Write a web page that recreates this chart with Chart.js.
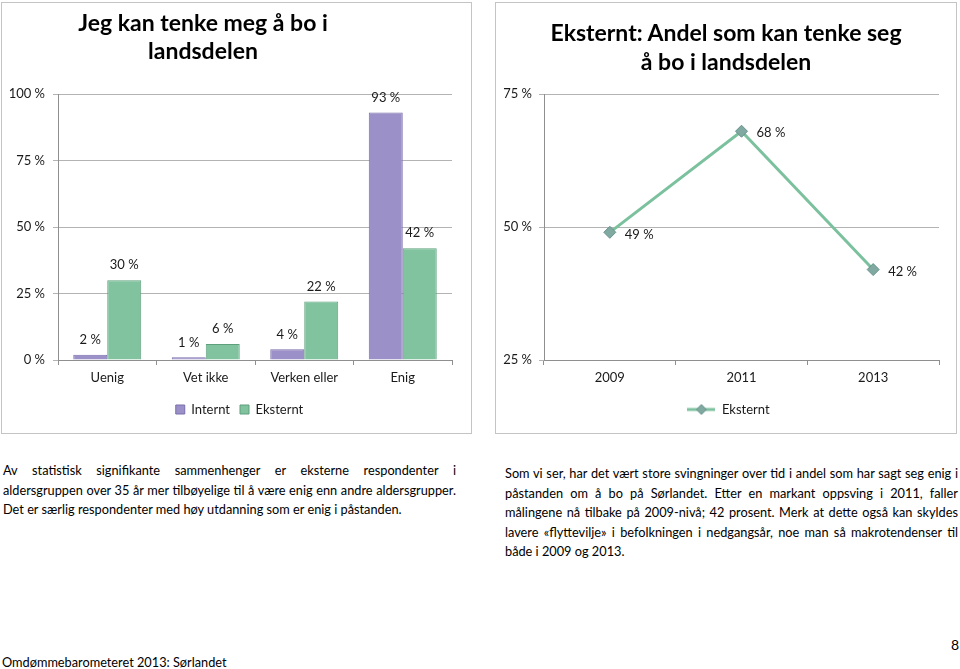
<!DOCTYPE html>
<html><head><meta charset="utf-8">
<script src="https://cdn.jsdelivr.net/npm/chart.js@4.4.1/dist/chart.umd.min.js"></script>
<style>
html,body{margin:0;padding:0;background:#fff;}
body{width:960px;height:669px;position:relative;overflow:hidden;font-family:Lato,sans-serif;color:#000;}
.box{position:absolute;border:1px solid #c4c4c4;box-sizing:border-box;}
.title{position:absolute;font-weight:bold;font-size:23px;text-align:center;color:#000;white-space:nowrap;}
.cv{position:absolute;}
.para{position:absolute;font-size:12px;line-height:19.5px;color:#000;}
.para div{white-space:nowrap;text-align:justify;text-align-last:justify;}
.para div.last{text-align-last:left;}
.foot{position:absolute;font-size:14px;line-height:16px;white-space:nowrap;transform-origin:0 0;}
</style></head>
<body>
<div class="box" style="left:1px;top:2px;width:471px;height:432px"></div>
<div class="box" style="left:495px;top:2px;width:462px;height:432px"></div>
<div class="cv" style="left:0;top:0;width:472px;height:435px"><canvas id="c1"></canvas></div>
<div class="cv" style="left:480px;top:0;width:480px;height:435px"><canvas id="c2"></canvas></div>
<div class="title" style="left:3px;top:8px;width:400px;line-height:28px">Jeg kan tenke meg å bo i<br>landsdelen</div>
<div class="title" style="left:526px;top:18px;width:400px;line-height:29px">Eksternt: Andel som kan tenke seg<br>å bo i landsdelen</div>
<div class="para" style="left:3px;top:461px;width:453px">
<div>Av statistisk signifikante sammenhenger er eksterne respondenter i</div>
<div>aldersgruppen over 35 år mer tilbøyelige til å være enig enn andre aldersgrupper.</div>
<div class="last">Det er særlig respondenter med høy utdanning som er enig i påstanden.</div>
</div>
<div class="para" style="left:505px;top:464px;width:453px">
<div>Som vi ser, har det vært store svingninger over tid i andel som har sagt seg enig i</div>
<div>påstanden om å bo på Sørlandet. Etter en markant oppsving i 2011, faller</div>
<div>målingene nå tilbake på 2009-nivå; 42 prosent. Merk at dette også kan skyldes</div>
<div>lavere «flyttevilje» i befolkningen i nedgangsår, noe man så makrotendenser til</div>
<div class="last">både i 2009 og 2013.</div>
</div>
<div class="foot" style="left:2px;top:654px;transform:scaleX(0.91)">Omdømmebarometeret 2013: Sørlandet</div>
<div class="foot" style="left:951px;top:637px">8</div>
<script>
// ---- data ----
const categories = ['Uenig', 'Vet ikke', 'Verken eller', 'Enig'];
const internt = [2, 1, 4, 93];
const eksternt = [30, 6, 22, 42];
const barTicks = [0, 25, 50, 75, 100];
const years = ['2009', '2011', '2013'];
const eksterntTrend = [49, 68, 42];
const lineTicks = [25, 50, 75];

// ---- styles ----
const FONT = 'Lato';
const TXT = '#1a1a1a';
const GRID = '#b3b3b3';
const AXIS = '#8f8f8f';
const PURPLE = '#9b90c8', PURPLE_B = '#7a6eab';
const GREEN = '#80c39e', GREEN_B = '#5e9f7c';
const LINE = '#7cc19e', MARK = '#7fa9a1', MARK_B = '#67908a';

// fit paragraph font so every line fits its column
document.querySelectorAll('.para').forEach(p => {
  const w = p.clientWidth;
  const probe = document.createElement('span');
  probe.style.cssText = 'position:absolute;visibility:hidden;white-space:nowrap;font-family:Lato;';
  document.body.appendChild(probe);
  const lines = [...p.children].map(d => d.textContent.trim());
  let size = 13.5;
  while (size > 9) {
    probe.style.fontSize = size + 'px';
    const ok = lines.every(t => { probe.textContent = t; return probe.getBoundingClientRect().width <= w - 1; });
    if (ok) break;
    size -= 0.25;
  }
  p.style.fontSize = size + 'px';
  probe.remove();
});

const valueLabels = {
  id: 'valueLabels',
  afterDatasetsDraw(chart, args, o) {
    const ctx = chart.ctx;
    ctx.save();
    ctx.font = o.size + 'px ' + FONT;
    ctx.fillStyle = TXT;
    ctx.textBaseline = 'middle';
    chart.data.datasets.forEach((ds, i) => {
      chart.getDatasetMeta(i).data.forEach((el, j) => {
        const t = ds.data[j] + ' %';
        if (o.mode === 'bar') {
          ctx.textAlign = 'center';
          ctx.fillText(t, el.x, el.y - o.offset);
        } else {
          ctx.textAlign = 'left';
          ctx.fillText(t, el.x + o.offset, el.y + 2);
        }
      });
    });
    ctx.restore();
  }
};

const legendShift = {
  id: 'legendShift',
  afterLayout(chart, args, o) {
    const L = chart.legend;
    if (L) { L.left += o.dx; L.right += o.dx; }
  }
};

const pct = v => v + ' %';

new Chart(document.getElementById('c1'), {
  type: 'bar',
  data: {
    labels: categories,
    datasets: [
      { label: 'Internt', data: internt, backgroundColor: PURPLE, borderColor: PURPLE_B, borderWidth: 1, categoryPercentage: 0.69, barPercentage: 1 },
      { label: 'Eksternt', data: eksternt, backgroundColor: GREEN, borderColor: GREEN_B, borderWidth: 1, categoryPercentage: 0.69, barPercentage: 1 }
    ]
  },
  options: {
    responsive: true, maintainAspectRatio: false, animation: false,
    layout: { padding: { left: 0, right: 20, top: 94, bottom: 9 } },
    scales: {
      x: {
        grid: { drawOnChartArea: false, drawTicks: true, tickLength: 5, offset: true, color: AXIS },
        border: { color: AXIS },
        ticks: { font: { family: FONT, size: 13 }, color: TXT, padding: 5 },
        afterFit(s) { s.height = 33; }
      },
      y: {
        min: barTicks[0], max: barTicks[barTicks.length - 1],
        grid: { color: GRID, tickLength: 5 },
        border: { color: AXIS },
        ticks: { font: { family: FONT, size: 13 }, color: TXT, padding: 8, callback: pct },
        afterBuildTicks(s) { s.ticks = barTicks.map(v => ({ value: v })); },
        afterFit(s) { s.width = 58; }
      }
    },
    plugins: {
      legend: { position: 'bottom', labels: { boxWidth: 9, boxHeight: 9, padding: 10, font: { family: FONT, size: 13 }, color: TXT } },
      tooltip: { enabled: false },
      valueLabels: { mode: 'bar', offset: 15, size: 13 },
      legendShift: { dx: 13.5 }
    }
  },
  plugins: [valueLabels, legendShift]
});

// legend sample: line with diamond
const leg = document.createElement('canvas');
leg.width = 28; leg.height = 12;
(function () {
  const g = leg.getContext('2d');
  g.strokeStyle = LINE; g.lineWidth = 3;
  g.beginPath(); g.moveTo(0, 6); g.lineTo(28, 6); g.stroke();
  g.fillStyle = MARK; g.strokeStyle = MARK_B; g.lineWidth = 1;
  g.beginPath(); g.moveTo(14, 1); g.lineTo(19, 6); g.lineTo(14, 11); g.lineTo(9, 6); g.closePath(); g.fill(); g.stroke();
})();

new Chart(document.getElementById('c2'), {
  type: 'line',
  data: {
    labels: years,
    datasets: [
      { label: 'Eksternt', data: eksterntTrend, borderColor: LINE, borderWidth: 3, pointStyle: 'rectRot', pointRadius: 6, pointBackgroundColor: MARK, pointBorderColor: MARK_B, pointBorderWidth: 1, tension: 0 }
    ]
  },
  options: {
    responsive: true, maintainAspectRatio: false, animation: false,
    layout: { padding: { left: 0, right: 21, top: 94, bottom: 9 } },
    scales: {
      x: {
        offset: true,
        grid: { drawOnChartArea: false, drawTicks: true, tickLength: 5, offset: true, color: AXIS },
        border: { color: AXIS },
        ticks: { font: { family: FONT, size: 13 }, color: TXT, padding: 5 },
        afterFit(s) { s.height = 33; }
      },
      y: {
        min: lineTicks[0], max: lineTicks[lineTicks.length - 1],
        grid: { color: GRID, tickLength: 5 },
        border: { color: AXIS },
        ticks: { font: { family: FONT, size: 13 }, color: TXT, padding: 7, callback: pct },
        afterBuildTicks(s) { s.ticks = lineTicks.map(v => ({ value: v })); },
        afterFit(s) { s.width = 64; }
      }
    },
    plugins: {
      legend: {
        position: 'bottom',
        labels: {
          usePointStyle: true, pointStyleWidth: 28, padding: 10,
          font: { family: FONT, size: 13 }, color: TXT,
          generateLabels: ch => [{ text: 'Eksternt', pointStyle: leg, fillStyle: LINE, strokeStyle: LINE, lineWidth: 0, hidden: false, datasetIndex: 0, fontColor: TXT }]
        }
      },
      tooltip: { enabled: false },
      valueLabels: { mode: 'line', offset: 15, size: 13 },
      legendShift: { dx: 19 }
    }
  },
  plugins: [valueLabels, legendShift]
});
</script>
</body></html>
